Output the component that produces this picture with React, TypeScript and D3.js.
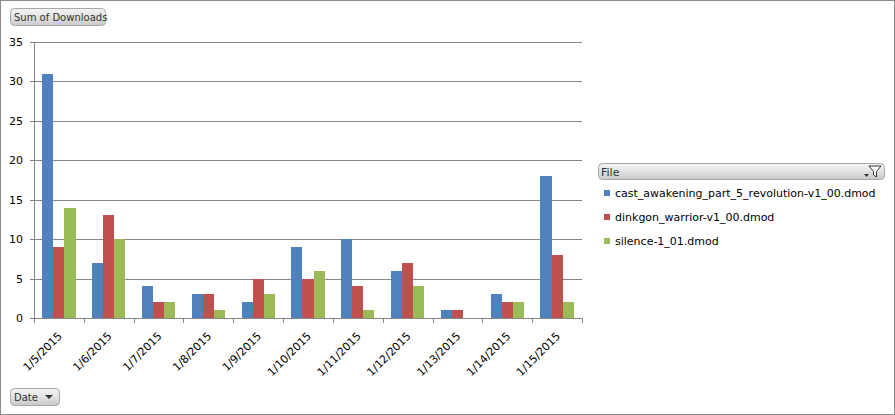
import React from "react";
import * as d3 from "d3";

const dates = ["1/5/2015", "1/6/2015", "1/7/2015", "1/8/2015", "1/9/2015", "1/10/2015", "1/11/2015", "1/12/2015", "1/13/2015", "1/14/2015", "1/15/2015"];
const seriesNames = ["cast_awakening_part_5_revolution-v1_00.dmod", "dinkgon_warrior-v1_00.dmod", "silence-1_01.dmod"];
const castValues = [31, 7, 4, 3, 2, 9, 10, 6, 1, 3, 18];
const dinkgonValues = [9, 13, 2, 3, 5, 5, 4, 7, 1, 2, 8];
const silenceValues = [14, 10, 2, 1, 3, 6, 1, 4, 0, 2, 2];
const yTicks = [0, 5, 10, 15, 20, 25, 30, 35];
const colors = ["#4F81BD", "#C0504D", "#9BBB59"];

const W = 895;
const H = 415;
const FONT = "'DejaVu Sans', Verdana, sans-serif";

export default function App() {
  const seriesValues = [castValues, dinkgonValues, silenceValues];
  const x = d3.scaleBand<string>().domain(dates).range([34, 582]);
  const inner = d3
    .scaleBand<string>()
    .domain(seriesNames)
    .range([0, x.bandwidth()])
    .paddingInner(0)
    .paddingOuter(0.75);
  const y = d3.scaleLinear().domain([0, 35]).range([318, 42]);
  const px = (v: number) => Math.round(v) + 0.5;
  const bounds = dates.map((d) => x(d) as number).concat([582]);

  return (
    <svg
      width={W}
      height={H}
      style={{ position: "absolute", left: 0, top: 0, background: "#fff" }}
      fontFamily={FONT}
    >
      <defs>
        <linearGradient id="btn" x1="0" y1="0" x2="0" y2="1">
          <stop offset="0" stopColor="#f4f4f4" />
          <stop offset="0.5" stopColor="#e2e2e2" />
          <stop offset="1" stopColor="#c9c9c9" />
        </linearGradient>
      </defs>
      <rect x={0.5} y={0.5} width={W - 1} height={H - 1} fill="#fff" stroke="#8c8c8c" />

      {/* Sum of Downloads button */}
      <rect x={10.5} y={8.5} width={95} height={17} rx={4} fill="url(#btn)" stroke="#a8a8a8" />
      <text x={14} y={21} fontSize={10} fill="#333">Sum of Downloads</text>

      {/* gridlines */}
      {yTicks.map((t) => (
        <line key={"g" + t} x1={34} x2={582} y1={px(y(t))} y2={px(y(t))} stroke="#868686" />
      ))}
      {/* y axis */}
      <line x1={px(34)} x2={px(34)} y1={px(y(35))} y2={px(y(0))} stroke="#868686" />
      {yTicks.map((t) => (
        <g key={"yt" + t}>
          <line x1={30} x2={34} y1={px(y(t))} y2={px(y(t))} stroke="#868686" />
          <text x={23} y={y(t)} dy="0.36em" textAnchor="end" fontSize={11} fill="#000">
            {t}
          </text>
        </g>
      ))}

      {/* bars */}
      {seriesValues.map((vals, si) =>
        vals.map((v, i) => {
          const bx = (x(dates[i]) as number) + (inner(seriesNames[si]) as number);
          return (
            <rect
              key={"b" + si + "_" + i}
              x={bx}
              y={y(v)}
              width={inner.bandwidth()}
              height={y(0) - y(v)}
              fill={colors[si]}
              shapeRendering="crispEdges"
            />
          );
        })
      )}

      {/* x axis */}
      <line x1={34} x2={583} y1={px(y(0))} y2={px(y(0))} stroke="#868686" />
      {bounds.map((b, i) => (
        <line key={"xt" + i} x1={px(b)} x2={px(b)} y1={318} y2={323} stroke="#868686" />
      ))}
      {dates.map((d) => {
        const cx = (x(d) as number) + x.bandwidth() / 2 + 1;
        const cy = 334;
        return (
          <text
            key={"xl" + d}
            transform={`translate(${cx},${cy}) rotate(-45)`}
            textAnchor="end"
            dy="0.36em"
            fontSize={11}
            fill="#000"
          >
            {d}
          </text>
        );
      })}

      {/* Date button */}
      <rect x={10.5} y={388.5} width={49} height={17} rx={4} fill="url(#btn)" stroke="#a8a8a8" />
      <text x={14} y={401} fontSize={10} fill="#333">Date</text>
      <path d="M45,395 L53,395 L49,399 Z" fill="#333" />

      {/* Legend header */}
      <rect x={598.5} y={163.5} width={286} height={16} rx={4} fill="url(#btn)" stroke="#a8a8a8" />
      <text x={601} y={175.5} fontSize={11} fill="#333">File</text>
      <path d="M864,174 L869,174 L866.5,177 Z" fill="#333" />
      <path d="M869,166 L881,166 L876.5,171.5 L876.5,177 L873.5,175 L873.5,171.5 Z" fill="#fff" stroke="#333" strokeWidth={1} />

      {seriesNames.map((s, i) => (
        <g key={"lg" + s}>
          <rect x={604} y={190 + i * 24} width={6} height={6} fill={colors[i]} />
          <text x={615} y={193 + i * 24} dy="0.36em" fontSize={11} fill="#000">
            {s}
          </text>
        </g>
      ))}
    </svg>
  );
}
